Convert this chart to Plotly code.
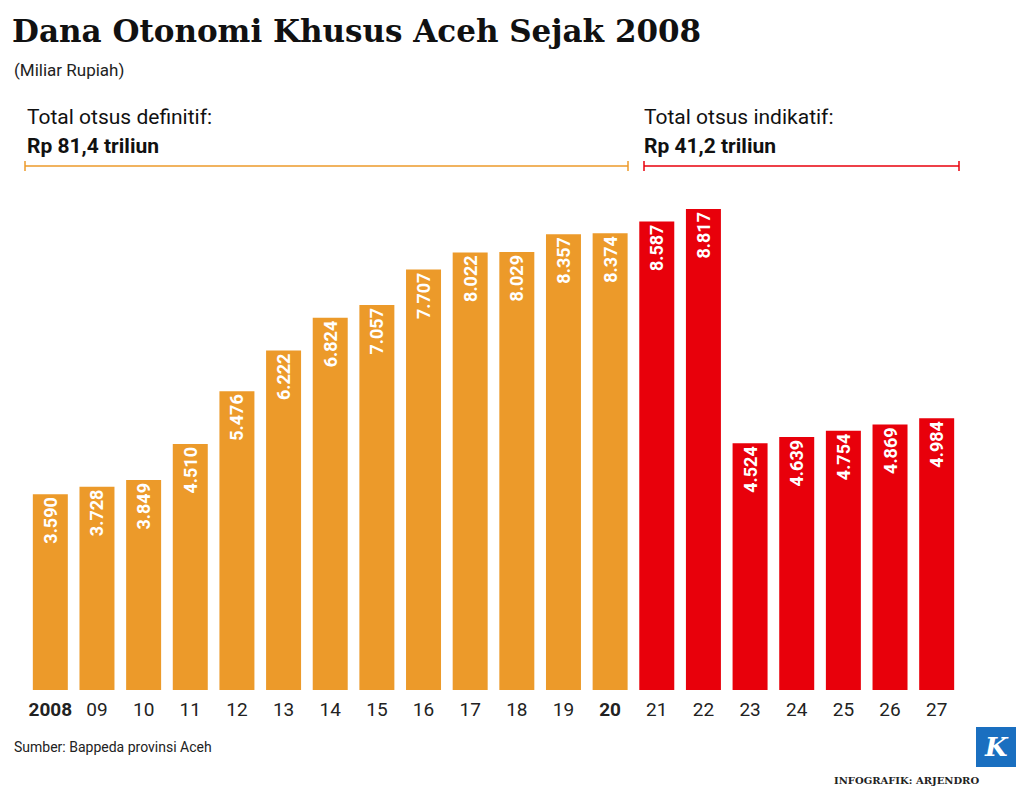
import plotly.graph_objects as go

years = ["2008", "09", "10", "11", "12", "13", "14", "15", "16", "17",
         "18", "19", "20", "21", "22", "23", "24", "25", "26", "27"]
values = [3590, 3728, 3849, 4510, 5476, 6222, 6824, 7057, 7707, 8022,
          8029, 8357, 8374, 8587, 8817, 4524, 4639, 4754, 4869, 4984]
labels = ["3.590", "3.728", "3.849", "4.510", "5.476", "6.222", "6.824", "7.057", "7.707", "8.022",
          "8.029", "8.357", "8.374", "8.587", "8.817", "4.524", "4.639", "4.754", "4.869", "4.984"]
tick_text = ["<b>2008</b>"] + years[1:12] + ["<b>20</b>"] + years[13:]

ORANGE = "#ec9a2a"
RED = "#e8000b"
colors = [ORANGE] * 13 + [RED] * 7

# page body adds an 8px offset, compensate
OFF = 8
W, H = 1024, 796
L, R, T, B = 27 - OFF, 72, 190 - OFF, 114

fig = go.Figure(go.Bar(
    x=years, y=values, marker_color=colors, marker_line_width=0,
    text=labels, textposition="inside", insidetextanchor="end", textangle=-90,
    textfont=dict(family="Roboto", size=18, color="white", weight="bold"),
    cliponaxis=False,
))

fig.update_layout(
    width=W, height=H, margin=dict(l=L, r=R, t=T, b=B),
    paper_bgcolor="white", plot_bgcolor="white", bargap=0.25, showlegend=False,
    xaxis=dict(tickmode="array", tickvals=years, ticktext=tick_text, showline=False,
               tickfont=dict(family="Roboto", size=19, color="#222"), ticks="", ticklabelstandoff=6),
    yaxis=dict(range=[0, 9166], visible=False),
)

def px(x):
    return (x - OFF - L) / (W - L - R)

def py(y):
    return (H - B - (y - OFF)) / (H - T - B)

anns = [
    dict(x=px(10), y=py(31), text="<b>Dana Otonomi Khusus Aceh Sejak 2008</b>",
         font=dict(family="DejaVu Serif", size=31, color="#111")),
    dict(x=px(12), y=py(70), text="(Miliar Rupiah)", font=dict(family="Roboto", size=17, color="#222")),
    dict(x=px(25), y=py(117), text="Total otsus definitif:", font=dict(family="Roboto", size=21, color="#111")),
    dict(x=px(25), y=py(146), text="<b>Rp 81,4 triliun</b>", font=dict(family="Roboto", size=21, color="#111")),
    dict(x=px(642), y=py(117), text="Total otsus indikatif:", font=dict(family="Roboto", size=21, color="#111")),
    dict(x=px(642), y=py(146), text="<b>Rp 41,2 triliun</b>", font=dict(family="Roboto", size=21, color="#111")),
    dict(x=px(12), y=py(747), text="Sumber: Bappeda provinsi Aceh", font=dict(family="Roboto", size=14, color="#222")),
    dict(x=px(832), y=py(780), text="<b>INFOGRAFIK: ARJENDRO</b>", font=dict(family="DejaVu Serif", size=10, color="#222")),
    dict(x=px(997), y=py(747), text="<b><i>K</i></b>", xanchor="center",
         font=dict(family="DejaVu Serif", size=26, color="white")),
]
for a in anns:
    a.update(xref="paper", yref="paper", showarrow=False, yanchor="middle")
    a.setdefault("xanchor", "left")
fig.update_layout(annotations=anns)

shapes = []
for x0, x1, c in [(25, 628, ORANGE), (644, 959, RED)]:
    shapes.append(dict(type="line", x0=px(x0), x1=px(x1), y0=py(166), y1=py(166), line=dict(color=c, width=1.5)))
    for xx in (x0, x1):
        shapes.append(dict(type="line", x0=px(xx), x1=px(xx), y0=py(161), y1=py(171), line=dict(color=c, width=1.5)))
shapes.append(dict(type="rect", x0=px(976), x1=px(1018), y0=py(727), y1=py(767),
                   fillcolor="#1a6fc0", line_width=0))
for s in shapes:
    s.update(xref="paper", yref="paper")
fig.update_layout(shapes=shapes)

fig.write_html("out.html")
